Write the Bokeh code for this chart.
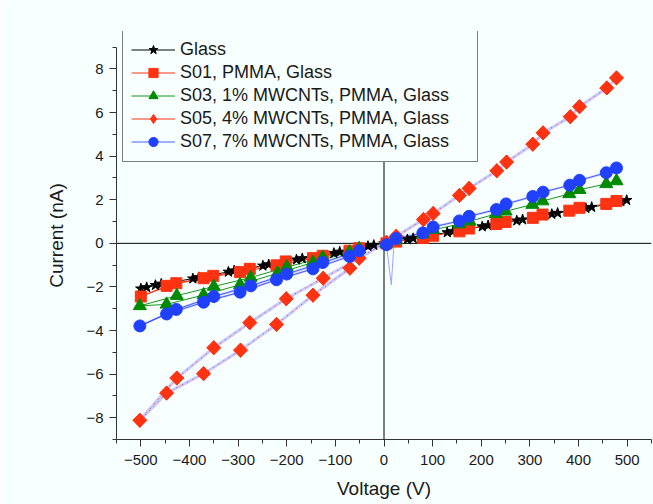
import math
from bokeh.plotting import figure
from bokeh.models import Range1d, FixedTicker, Span, Legend, LegendItem
from bokeh.embed import file_html
from bokeh.resources import INLINE

# ---------------- data ----------------
glass_v = [-500, -488, -470, -458, -393, -381, -320, -308, -249, -237, -180, -168,
           -103, -91, -33, -21, 0, 48, 60, 130, 142, 202, 214, 273, 285, 345, 357,
           415, 427, 487, 499]
glass_i = [-2.08, -2.02, -1.92, -1.86, -1.62, -1.56, -1.31, -1.25, -1.03, -0.97,
           -0.75, -0.69, -0.45, -0.39, -0.13, -0.08, 0.0, 0.18, 0.23, 0.50, 0.55,
           0.77, 0.82, 1.04, 1.09, 1.34, 1.39, 1.61, 1.66, 1.92, 1.98]

s01_v = [-71, -146, -221, -296, -371, -447, -500, -427, -351, -276, -202, -126, -51,
         5, 25, 80, 101, 155, 175, 231, 250, 306, 326, 381, 402, 457, 478]
s01_i = [-0.34, -0.68, -1.01, -1.32, -1.60, -1.95, -2.44, -1.83, -1.49, -1.17, -0.83,
         -0.57, -0.22, 0.0, 0.08, 0.25, 0.35, 0.55, 0.68, 0.89, 0.98, 1.17, 1.32,
         1.50, 1.63, 1.81, 1.94]

s03_v = [-71, -146, -219, -296, -371, -447, -502, -426, -350, -274, -200, -126, -51,
         5, 25, 80, 101, 155, 176, 230, 250, 305, 326, 381, 402, 457, 478]
s03_i = [-0.41, -0.88, -1.37, -1.90, -2.37, -2.80, -2.87, -2.40, -1.98, -1.57, -1.09,
         -0.65, -0.25, 0.0, 0.15, 0.42, 0.62, 0.88, 1.01, 1.35, 1.47, 1.78, 1.94,
         2.27, 2.46, 2.73, 2.86]

s05_v = [-70, -146, -221, -295, -371, -447, -502, -426, -350, -276, -201, -125, -51,
         5, 25, 81, 101, 155, 175, 232, 252, 306, 327, 383, 402, 458, 478]
s05_i = [-1.14, -2.38, -3.72, -4.90, -5.98, -6.87, -8.12, -6.18, -4.79, -3.64, -2.54,
         -1.60, -0.68, 0.05, 0.32, 1.09, 1.37, 2.20, 2.52, 3.33, 3.73, 4.55, 5.07,
         5.81, 6.27, 7.13, 7.59]

s07_v = [-71, -146, -221, -296, -371, -447, -502, -427, -350, -274, -200, -126, -51,
         5, 25, 80, 101, 155, 175, 231, 251, 306, 327, 382, 402, 457, 478]
s07_i = [-0.60, -1.17, -1.67, -2.24, -2.70, -3.24, -3.79, -3.03, -2.44, -1.95, -1.41,
         -0.88, -0.34, -0.06, 0.22, 0.48, 0.75, 1.03, 1.24, 1.55, 1.81, 2.15, 2.35,
         2.67, 2.89, 3.24, 3.46]

# recorded trace of the S07 sweep near 0 V (with the spike)
s07_trace_v = [-51, 5, 15, 20, 25]
s07_trace_i = [-0.34, -0.06, -1.90, -0.20, 0.22]

labels = ["Glass", "S01, PMMA, Glass", "S03, 1% MWCNTs, PMMA, Glass",
          "S05, 4% MWCNTs, PMMA, Glass", "S07, 7% MWCNTs, PMMA, Glass"]

x_ticks = [-500, -400, -300, -200, -100, 0, 100, 200, 300, 400, 500]
x_minor = [-550, -450, -350, -250, -150, -50, 50, 150, 250, 350, 450, 550]
y_ticks = [-8, -6, -4, -2, 0, 2, 4, 6, 8]
y_minor = [-9, -7, -5, -3, -1, 1, 3, 5, 7, 9]

# ---------------- styling ----------------
BG = "#F7FFFF"
RED = "#FF3311"
GREEN = "#008A00"
BLUE = "#2040FF"
LAV = "#C8C8FF"
FONT = "Liberation Sans"
TXT = "#1a1a1a"

p = figure(width=653, height=504, output_backend="svg", toolbar_location=None,
           x_range=Range1d(-550, 550), y_range=Range1d(-9, 9.72),
           min_border_left=116, min_border_right=2, min_border_top=31,
           min_border_bottom=65, background_fill_color=BG, border_fill_color=BG)
p.outline_line_color = None
p.grid.visible = False

p.add_layout(Span(location=0, dimension="width", line_color="black", line_width=1, level="underlay"))
p.add_layout(Span(location=0, dimension="height", line_color="black", line_width=1, level="underlay"))

# lines
l_glass = p.line(glass_v, glass_i, color="black", line_width=1)
l_s01 = p.line(s01_v, s01_i, color=RED, line_width=1)
l_s03 = p.line(s03_v, s03_i, color=GREEN, line_width=0.9)
l_s05 = p.line(s05_v, s05_i, color=RED, line_width=1)          # hidden under the band; legend swatch
p.line(s05_v, s05_i, color=LAV, line_width=3)
p.line(s05_v, s05_i, color=RED, line_width=1, line_dash="1 5")
p.line(s07_v, s07_i, color=LAV, line_width=2.5, line_alpha=0.8)
l_s07 = p.line(s07_v, s07_i, color=BLUE, line_width=0.9, line_alpha=0.9)
p.line(s07_trace_v, s07_trace_i, color="#A0A0FF", line_width=1)

# markers
m_glass = p.scatter(glass_v, glass_i, marker="star", size=11, color="black")
m_s01 = p.scatter(s01_v, s01_i, marker="square", size=11, color=RED)
m_s03 = p.scatter(s03_v, s03_i, marker="triangle", size=13, color=GREEN)
m_s05 = p.scatter(s05_v, s05_i, marker="diamond", size=14, color=RED)  # legend swatch
p.scatter(s05_v, s05_i, marker="square", angle=math.pi / 4, size=10, color=RED)
m_s07 = p.scatter(s07_v, s07_i, marker="circle", size=12, color=BLUE)

# axes
for ax, tk, mn in ((p.xaxis[0], x_ticks, x_minor), (p.yaxis[0], y_ticks, y_minor)):
    ax.ticker = FixedTicker(ticks=tk, minor_ticks=mn)
    ax.axis_line_color = "#333333"
    ax.major_tick_line_color = "#333333"
    ax.minor_tick_line_color = "#333333"
    ax.major_tick_in = 0
    ax.major_tick_out = 7
    ax.minor_tick_in = 0
    ax.minor_tick_out = 4
    ax.major_label_text_font = FONT
    ax.major_label_text_font_size = "15px"
    ax.major_label_text_color = TXT
    ax.axis_label_text_font = FONT
    ax.axis_label_text_font_size = "19px"
    ax.axis_label_text_font_style = "normal"
    ax.axis_label_text_color = TXT
p.xaxis.bounds = (-550, 550)
p.yaxis.bounds = (-9, 9)
p.xaxis.axis_label = "Voltage (V)"
p.yaxis.axis_label = "Current (nA)"
p.xaxis.major_label_standoff = 8
p.xaxis.axis_label_standoff = 10
p.yaxis.major_label_standoff = 6
p.yaxis.axis_label_standoff = 16

items = [LegendItem(label=labels[0], renderers=[l_glass, m_glass]),
         LegendItem(label=labels[1], renderers=[l_s01, m_s01]),
         LegendItem(label=labels[2], renderers=[l_s03, m_s03]),
         LegendItem(label=labels[3], renderers=[l_s05, m_s05]),
         LegendItem(label=labels[4], renderers=[l_s07, m_s07])]
legend = Legend(items=items, location=(6, 277), padding=8, margin=0,
                label_height=23, glyph_height=23, glyph_width=44, label_standoff=5,
                spacing=0, label_width=289, label_text_font=FONT,
                label_text_font_size="18px", label_text_color=TXT,
                border_line_color="black", border_line_width=1,
                background_fill_color=BG, background_fill_alpha=1.0)
p.add_layout(legend)

open("out.html", "w").write(file_html(p, INLINE))
